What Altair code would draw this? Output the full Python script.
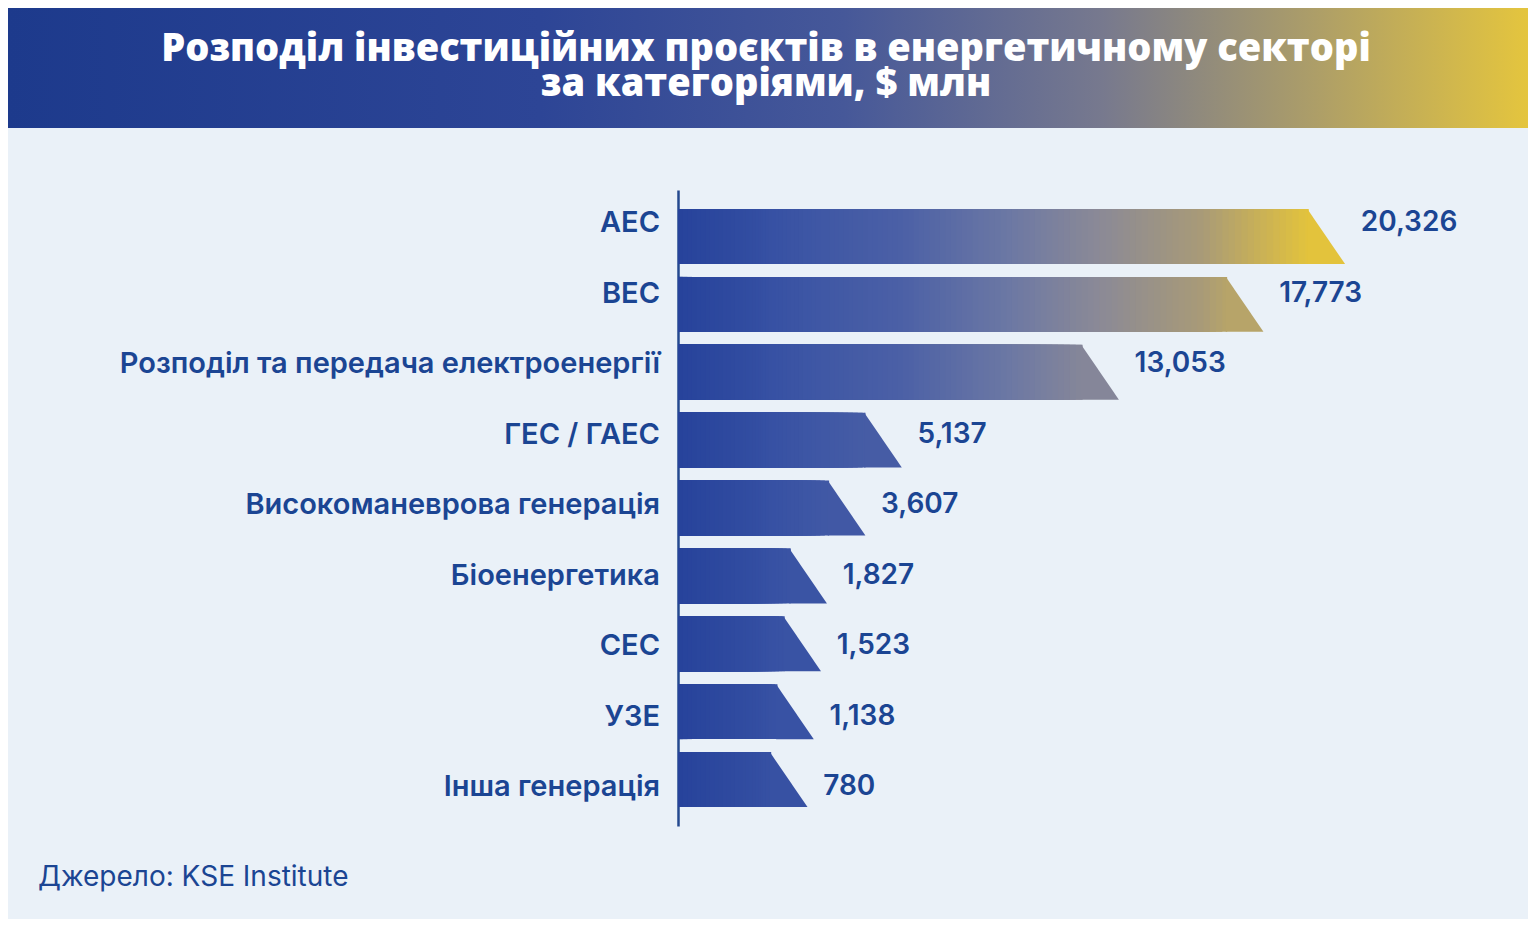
import altair as alt
import numpy as np
import pandas as pd

# ---- data ----
categories = [
    "АЕС",
    "ВЕС",
    "Розподіл та передача електроенергії",
    "ГЕС / ГАЕС",
    "Високоманеврова генерація",
    "Біоенергетика",
    "СЕС",
    "УЗЕ",
    "Інша генерація",
]
values = [20326, 17773, 13053, 5137, 3607, 1827, 1523, 1138, 780]
title_lines = ["Розподіл інвестиційних проєктів в енергетичному секторі", "за категоріями, $ млн"]
source_text = ["Джерело: KSE Institute"]

# ---- styling ----
BG = "#eaf1f8"
BLUE_TXT = "#1b4593"
X_MIN, X_MAX = -4180, 26900
STEP = 200
PLOT_W, PLOT_H = 850, 636
PAD = {"left": 670, "top": 182, "right": 0, "bottom": 93}
FONT = "Inter"

# each bar is drawn as nested slices (longest first, all starting at the axis),
# so that the fill follows one gradient along the axis without seams
rows = []
for c, v in zip(categories, values):
    ends = list(np.arange(X_MIN + STEP, v, STEP)) + [v]
    prev = X_MIN
    part = []
    for e in ends:
        part.append({"cat": c, "x0": float(X_MIN), "x1": float(e), "c": float((prev + e) / 2)})
        prev = e
    rows.extend(reversed(part))
seg = pd.DataFrame(rows)
bars_df = pd.DataFrame({"cat": categories, "v": values})
one = pd.DataFrame({"a": [0]})
src_df = pd.DataFrame({"t": source_text})

xscale = alt.Scale(type="pow", exponent=1.2, domain=[X_MIN, X_MAX], nice=False, zero=False)
yscale = alt.Scale(type="band", domain=categories, paddingInner=0.19, paddingOuter=0.28)
lscale = alt.Scale(type="point", domain=categories, range=[33, 597], padding=0)
cscale = alt.Scale(
    domain=[X_MIN, 1180, 6520, 10560, 13660, 16930, 20326],
    range=["#27439b", "#3852a4", "#4b60a6", "#6c78a4", "#8b8a96", "#a89a78", "#e3c33c"],
    interpolate="rgb",
)

yaxis = alt.Axis(
    title=None, ticks=False, labels=False, domainColor="#24498f", domainWidth=2.5,
)

header = alt.Chart(one).mark_rect(
    fill=alt.LinearGradient(
        gradient="linear", x1=0, x2=1, y1=0, y2=0,
        stops=[
            alt.GradientStop(color="#1d3a8c", offset=0),
            alt.GradientStop(color="#2d4596", offset=0.35),
            alt.GradientStop(color="#465899", offset=0.55),
            alt.GradientStop(color="#77798e", offset=0.72),
            alt.GradientStop(color="#ad9e68", offset=0.86),
            alt.GradientStop(color="#e4c53e", offset=1),
        ],
    )
).encode(x=alt.value(-PAD["left"]), x2=alt.value(PLOT_W), y=alt.value(-PAD["top"]), y2=alt.value(-62))

title = alt.Chart(one).mark_text(
    text=title_lines, font="Open Sans", fontSize=38, fontWeight=800, color="white",
    align="center", baseline="top", lineHeight=35,
).encode(x=alt.value(88), y=alt.value(-159))

segs = alt.Chart(seg).mark_bar().encode(
    y=alt.Y("cat:N", scale=yscale, axis=yaxis, sort=categories),
    x=alt.X("x0:Q", scale=xscale, axis=None),
    x2="x1:Q",
    color=alt.Color("c:Q", scale=cscale, legend=None),
)

tips = alt.Chart(bars_df).mark_point(
    shape="M-0.05,-1 L-0.05,1 L1.32,1 Z", filled=True, opacity=1, strokeWidth=0,
).encode(
    y=alt.Y("cat:N", scale=yscale, sort=categories, axis=None),
    x=alt.X("v:Q", scale=xscale),
    color=alt.Color("v:Q", scale=cscale, legend=None),
    size=alt.value(3025),
)

cat_labels = alt.Chart(bars_df).mark_text(
    align="right", baseline="middle", font=FONT, fontSize=29, fontWeight=600, color=BLUE_TXT,
).encode(
    y=alt.Y("cat:N", scale=lscale, sort=categories, axis=None),
    x=alt.value(-18),
    text="cat:N",
)

val_labels = alt.Chart(bars_df).mark_text(
    align="left", baseline="middle", dx=52, font=FONT, fontSize=28, fontWeight=600, color=BLUE_TXT,
).encode(
    y=alt.Y("cat:N", scale=lscale, sort=categories, axis=None),
    x=alt.X("v:Q", scale=xscale),
    text=alt.Text("v:Q", format=","),
)

source = alt.Chart(src_df).mark_text(
    align="left", baseline="middle", font=FONT, fontSize=28, fontWeight=400, color=BLUE_TXT,
).encode(x=alt.value(-640), y=alt.value(688), text="t:N")

chart = alt.layer(header, title, segs, tips, cat_labels, val_labels, source).resolve_scale(
    y="independent"
).properties(
    width=PLOT_W, height=PLOT_H,
    autosize=alt.AutoSizeParams(type="none"),
    padding=PAD,
    background=BG,
).configure_view(stroke=None)

chart.save("out.html", embed_options={"renderer": "svg", "actions": False})
